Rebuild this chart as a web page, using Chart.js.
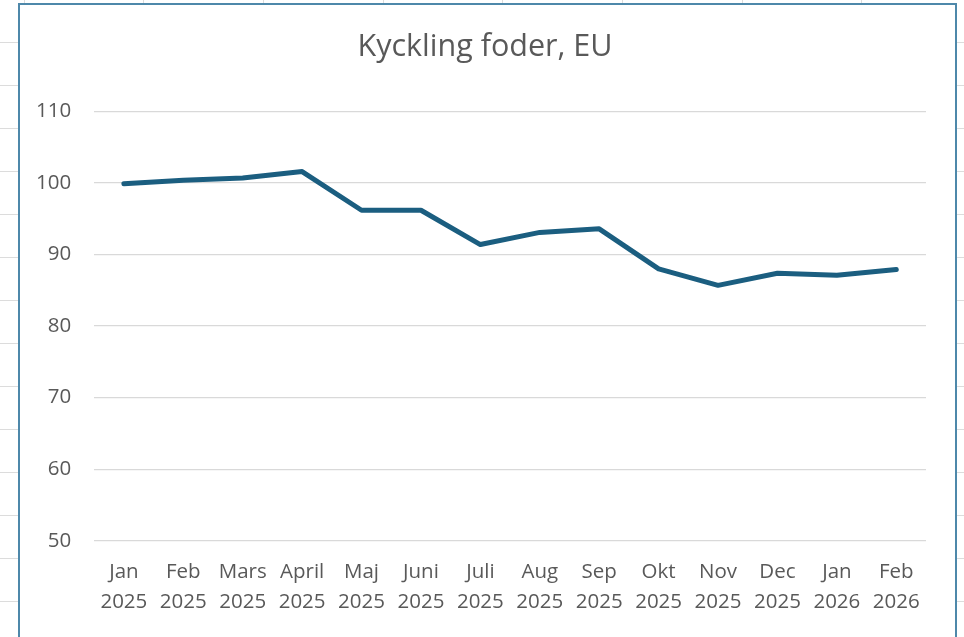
<!DOCTYPE html>
<html>
<head>
<meta charset="utf-8">
<script src="https://cdn.jsdelivr.net/npm/chart.js@4/dist/chart.umd.min.js"></script>
<style>
  html, body { margin: 0; padding: 0; }
  body {
    width: 964px; height: 637px; overflow: hidden; position: relative;
    background-color: #fff;
    background-image:
      repeating-linear-gradient(to right, transparent 0, transparent 23.5px, #dcdcdc 23.5px, #dcdcdc 24.5px, transparent 24.5px, transparent 119.7px),
      repeating-linear-gradient(to bottom, transparent 0, transparent 42px, #dcdcdc 42px, #dcdcdc 43px, transparent 43px, transparent 42.6px);
  }
  #frame {
    position: absolute; left: 18px; top: 3px; width: 935px; height: 700px;
    background: #fff; border: 2px solid #4e88aa;
  }
  #wrap { position: absolute; left: 0; top: 0; width: 964px; height: 637px; }
</style>
</head>
<body>
<div id="frame"></div>
<div id="wrap"><canvas id="chart"></canvas></div>
<script>
// months and values
const months = ['Jan', 'Feb', 'Mars', 'April', 'Maj', 'Juni', 'Juli', 'Aug', 'Sep', 'Okt', 'Nov', 'Dec', 'Jan', 'Feb'];
const years = ['2025', '2025', '2025', '2025', '2025', '2025', '2025', '2025', '2025', '2025', '2025', '2025', '2026', '2026'];
const values = [99.9, 100.4, 100.7, 101.6, 96.2, 96.2, 91.4, 93.1, 93.6, 88.0, 85.7, 87.4, 87.1, 87.9];
const yMin = 50, yMax = 110, yStep = 10;
const chartTitle = 'Kyckling foder, EU';

const labels = months.map((m, i) => [m, years[i]]);
const textColor = '#595959';
const fontFamily = "'Open Sans', 'Noto Sans', sans-serif";

// title centred on the chart frame rather than on the plot
const frameTitle = {
  id: 'frameTitle',
  afterDraw(chart) {
    const ctx = chart.ctx;
    ctx.save();
    ctx.font = '30.5px ' + fontFamily;
    ctx.fillStyle = textColor;
    ctx.textAlign = 'center';
    ctx.textBaseline = 'alphabetic';
    ctx.fillText(chartTitle, 485, 56);
    ctx.restore();
  }
};

new Chart(document.getElementById('chart'), {
  type: 'line',
  data: {
    labels: labels,
    datasets: [{
      label: chartTitle,
      data: values,
      borderColor: '#1b5e80',
      borderWidth: 5,
      pointRadius: 0,
      tension: 0,
      borderCapStyle: 'round',
      borderJoinStyle: 'round'
    }]
  },
  options: {
    responsive: true,
    maintainAspectRatio: false,
    animation: false,
    layout: { padding: { left: 13, right: 38, top: 111.5, bottom: 12 } },
    plugins: {
      legend: { display: false },
      tooltip: { enabled: false },
      title: { display: false }
    },
    scales: {
      x: {
        offset: true,
        grid: { display: false },
        border: { display: false },
        ticks: {
          color: textColor,
          font: { family: fontFamily, size: 20.5, lineHeight: 1.47 },
          padding: 8,
          maxRotation: 0,
          autoSkip: false
        }
      },
      y: {
        min: yMin,
        max: yMax,
        grid: { color: '#d9d9d9', lineWidth: 1.3, drawTicks: false },
        border: { display: false },
        ticks: {
          stepSize: yStep,
          color: textColor,
          font: { family: fontFamily, size: 20.5 },
          padding: 23
        }
      }
    }
  },
  plugins: [frameTitle]
});
</script>
</body>
</html>
